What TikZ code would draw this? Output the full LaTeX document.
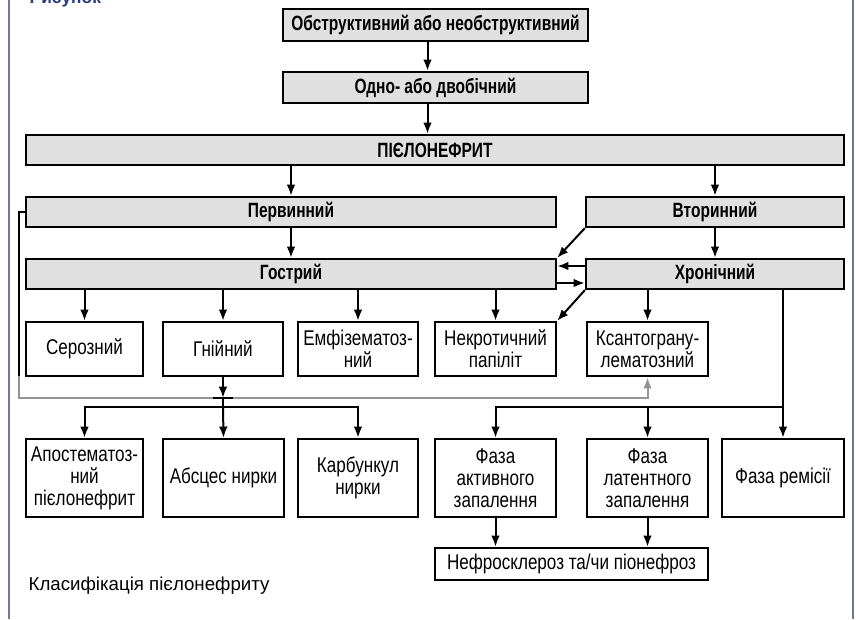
\documentclass[tikz,border=0pt]{standalone}
\usepackage{fontspec}
\setmainfont{Liberation Sans}
\newfontfamily\narrowfont[FakeStretch=0.8]{Liberation Sans}
\newfontfamily\narrowboldfont[FakeStretch=0.75]{Liberation Sans}
\usetikzlibrary{arrows.meta}
\definecolor{framegrey}{RGB}{110,122,145}
\definecolor{captionblue}{RGB}{40,60,125}

\begin{document}
\begin{tikzpicture}[x=0.75pt,y=-0.75pt,
  box/.style={draw,line width=1.7pt,align=center,inner sep=1pt,
    font=\narrowfont\fontsize{16}{16.5}\selectfont},
  bar/.style={box,fill=black!12,minimum height=22.5pt,
    font=\narrowboldfont\bfseries\fontsize{15.5}{16.5}\selectfont},
  arrow/.style={line width=1.5pt,-{Latex[length=8.5pt,width=6.5pt]}},
  link/.style={line width=1.5pt},
  feedback/.style={line width=1.5pt,black!42,-{Latex[length=8.5pt,width=6.5pt]}}]
\useasboundingbox (0,0) rectangle (856,619);
\fill[white] (0,0) rectangle (856,619);
\draw[framegrey,line width=2pt] (9,0) -- (9,619);
\draw[framegrey,line width=2pt] (853,0) -- (853,619);

\node[anchor=base west,text=captionblue,font=\bfseries\fontsize{13}{15}\selectfont] (figureLabel) at (25,3) {Рисунок};

\node[bar,minimum width=228.75pt,minimum height=24pt]    (obstructive)         at (435.5, 25)  {Обструктивний або необструктивний};
\node[bar,minimum width=228.75pt,minimum height=23.25pt] (bilateral)           at (435.5, 87.5){Одно- або двобічний};
\node[bar,minimum width=613.5pt]                         (pyelonephritis)      at (435,  150)  {ПІЄЛОНЕФРИТ};
\node[bar,minimum width=397.5pt]                         (primary)             at (291,  212)  {Первинний};
\node[bar,minimum width=193.5pt]                         (secondary)           at (715,  212)  {Вторинний};
\node[bar,minimum width=397.5pt]                         (acute)               at (291,  274)  {Гострий};
\node[bar,minimum width=193.5pt]                         (chronic)             at (715,  274)  {Хронічний};

\node[box,minimum width=87.75pt,minimum height=40.5pt]   (serous)              at (84.5, 349)  {Серозний};
\node[box,minimum width=90pt,minimum height=40.5pt]      (purulent)            at (223,  349)  {Гнійний};
\node[box,minimum width=90pt,minimum height=40.5pt]      (emphysematous)       at (358,  349)  {Емфізематоз-\\ний};
\node[box,minimum width=90.75pt,minimum height=40.5pt]   (necrotic)            at (495.5,349)  {Некротичний\\папіліт};
\node[box,minimum width=90.75pt,minimum height=40.5pt]   (xanthogranulomatous) at (647.5,349)  {Ксантограну-\\лематозний};

\node[box,minimum width=87.75pt,minimum height=58.5pt]   (apostematous)        at (84.5, 478)  {Апостематоз-\\ний\\пієлонефрит};
\node[box,minimum width=90.75pt,minimum height=58.5pt]   (abscess)             at (223.5,478)  {Абсцес нирки};
\node[box,minimum width=90pt,minimum height=58.5pt]      (carbuncle)           at (358,  478)  {Карбункул\\нирки};
\node[box,minimum width=90.75pt,minimum height=58.5pt]   (phaseActive)         at (495.5,478)  {Фаза\\активного\\запалення};
\node[box,minimum width=90.75pt,minimum height=58.5pt]   (phaseLatent)         at (647.5,478)  {Фаза\\латентного\\запалення};
\node[box,minimum width=91.5pt,minimum height=58.5pt]    (phaseRemission)      at (783,  478)  {Фаза ремісії};
\node[box,minimum width=204.75pt,minimum height=24pt]    (nephrosclerosis)     at (571.5,564)  {Нефросклероз та/чи піонефроз};

\node[anchor=west,font=\fontsize{14}{16}\selectfont] (caption) at (24,586) {Класифікація пієлонефриту};

\coordinate (purulentCross)  at (223,398);
\coordinate (purulentBus)    at (223,407);
\coordinate (chronicBus)     at (783,407);
\coordinate (leftTurn)       at (19,376);
\coordinate (feedbackTurn)   at (647.5,398);

% top chain
\draw[arrow] ([xshift=-6pt]obstructive.south) -- ([xshift=-6pt]bilateral.north);
\draw[arrow] ([xshift=-6pt]bilateral.south) -- ([xshift=-6pt]bilateral.south |- pyelonephritis.north);
\draw[arrow] (pyelonephritis.south -| primary.north) -- (primary.north);
\draw[arrow] (pyelonephritis.south -| secondary.north) -- (secondary.north);
\draw[arrow] (primary) -- (acute);
\draw[arrow] (secondary) -- (chronic);
\draw[arrow] (secondary.south west) -- (acute.north east);
\draw[arrow] ([yshift=6pt]chronic.west) -- ([yshift=6pt]acute.east);
\draw[arrow] ([yshift=-6.75pt]acute.east) -- ([yshift=-6.75pt]chronic.west);
\draw[arrow] (chronic.south west) -- (necrotic.north east);

% forms
\draw[arrow] (acute.south -| serous.north) -- (serous.north);
\draw[arrow] (acute.south -| purulent.north) -- (purulent.north);
\draw[arrow] (acute.south -| emphysematous.north) -- (emphysematous.north);
\draw[arrow] (acute.south -| necrotic.north) -- (necrotic.north);
\draw[arrow] (chronic.south -| xanthogranulomatous.north) -- (xanthogranulomatous.north);

% primary to xanthogranulomatous
\draw[link] (primary.west) -| (leftTurn);
\draw[feedback] (leftTurn) |- (feedbackTurn) -- (xanthogranulomatous.south);

% purulent forms
\draw[arrow] (purulent.south) -- (purulentCross);
\draw[link] ([xshift=-7.5pt]purulentCross) -- ([xshift=7.5pt]purulentCross);
\draw[link] (purulentCross) -- (purulentBus);
\draw[arrow] (purulentBus) -| (apostematous.north);
\draw[arrow] (purulentBus) -| (carbuncle.north);
\draw[arrow] (purulentBus) -- (abscess.north);

% phases
\draw[arrow] (chronic.south -| phaseRemission.north) -- (phaseRemission.north);
\draw[arrow] (chronicBus) -| (phaseActive.north);
\draw[arrow] (chronicBus -| phaseLatent.north) -- (phaseLatent.north);
\draw[arrow] (phaseActive.south) -- (phaseActive.south |- nephrosclerosis.north);
\draw[arrow] (phaseLatent.south) -- (phaseLatent.south |- nephrosclerosis.north);
\end{tikzpicture}
\end{document}
